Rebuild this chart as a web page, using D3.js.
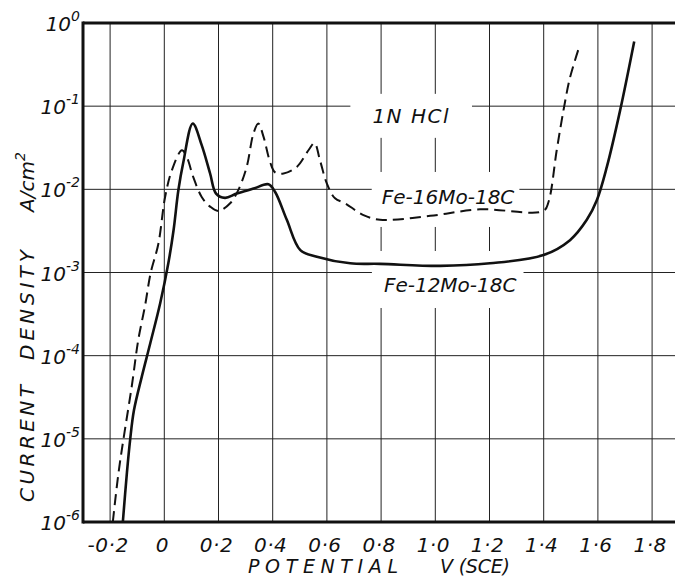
<!DOCTYPE html>
<html><head><meta charset="utf-8">
<script src="https://cdn.jsdelivr.net/npm/d3@7/dist/d3.min.js"></script>
<style>
body{margin:0;background:#fff}
svg{display:block}
text{font-family:"DejaVu Sans",sans-serif;font-style:italic;fill:#111}
</style>
</head><body>
<svg id="c" width="675" height="580"></svg>
<script>
// ---- data ----
const xTickValues = [-0.2, 0, 0.2, 0.4, 0.6, 0.8, 1.0, 1.2, 1.4, 1.6, 1.8];
const xTickLabels = ["-0·2", "0", "0·2", "0·4", "0·6", "0·8", "1·0", "1·2", "1·4", "1·6", "1·8"];
const yTickExponents = [0, -1, -2, -3, -4, -5, -6];

// Fe-12Mo-18C (solid)
const fe12Potential = [-0.153, -0.138, -0.126, -0.112, -0.083, -0.052, -0.015, 0.015, 0.034, 0.052, 0.070, 0.105, 0.138, 0.169, 0.191, 0.224, 0.267, 0.329, 0.384, 0.409, 0.452, 0.502, 0.563, 0.686, 0.796, 1.018, 1.202, 1.399, 1.497, 1.559, 1.596, 1.633, 1.682, 1.734];
const fe12Current   = [1.0e-6, 3.9e-6, 9.8e-6, 2.2e-5, 5.6e-5, 1.4e-4, 4.3e-4, 1.3e-3, 3.2e-3, 9.8e-3, 2.1e-2, 6.2e-2, 3.4e-2, 1.55e-2, 8.9e-3, 7.9e-3, 8.9e-3, 1.02e-2, 1.15e-2, 9.3e-3, 4.3e-3, 1.86e-3, 1.55e-3, 1.29e-3, 1.27e-3, 1.2e-3, 1.29e-3, 1.62e-3, 2.45e-3, 4.3e-3, 7.4e-3, 1.86e-2, 8.9e-2, 0.6];

// Fe-16Mo-18C (dashed)
const fe16Potential = [-0.19, -0.169, -0.151, -0.12, -0.096, -0.071, -0.05, -0.022, 0.003, 0.028, 0.065, 0.083, 0.107, 0.138, 0.169, 0.2, 0.243, 0.273, 0.304, 0.329, 0.347, 0.366, 0.391, 0.409, 0.44, 0.489, 0.532, 0.554, 0.575, 0.6, 0.63, 0.667, 0.735, 0.796, 0.981, 1.165, 1.399, 1.418, 1.448, 1.473, 1.497, 1.528];
const fe16Current   = [1.0e-6, 3.9e-6, 9.8e-6, 4.3e-5, 1.55e-4, 4.0e-4, 1.0e-3, 2.2e-3, 8.1e-3, 1.7e-2, 2.95e-2, 2.45e-2, 1.4e-2, 8.1e-3, 6.2e-3, 5.5e-3, 6.8e-3, 9.8e-3, 1.86e-2, 4.7e-2, 6.2e-2, 4.3e-2, 2.1e-2, 1.6e-2, 1.55e-2, 1.86e-2, 2.95e-2, 3.6e-2, 2.2e-2, 1.17e-2, 7.8e-3, 6.8e-3, 4.9e-3, 4.3e-3, 4.8e-3, 5.75e-3, 5.5e-3, 7.1e-3, 2.95e-2, 8.9e-2, 0.22, 0.48];

const labelTexts = ["1N HCl", "Fe-16Mo-18C", "Fe-12Mo-18C"];
const labelPotentials = [0.911, 1.047, 1.055];
const labelCurrents = [0.063, 6.67e-3, 5.83e-4];

// ---- layout ----
const svg = d3.select("#c");
const mLeft = 83, mTop = 23, mBottom = 522, W = 675;
const x = d3.scaleLinear().domain([-0.3, 1.9]).range([mLeft, mLeft + 2.2 * 271]);
const y = d3.scaleLog().domain([1e-6, 1]).range([mBottom, mTop]);

// grid
const g = svg.append("g");
g.selectAll("line.v").data(xTickValues).join("line").attr("class", "v")
  .attr("x1", d => x(d)).attr("x2", d => x(d))
  .attr("y1", mTop).attr("y2", mBottom)
  .attr("stroke", "#222").attr("stroke-width", 1);
g.selectAll("line.h").data(yTickExponents).join("line").attr("class", "h")
  .attr("x1", mLeft).attr("x2", W)
  .attr("y1", d => y(Math.pow(10, d))).attr("y2", d => y(Math.pow(10, d)))
  .attr("stroke", "#222").attr("stroke-width", 1);

// label masks + labels
const pads = [[22, 10, 22, 10], [10, 13, 5, 18], [12, 22, 7, 11]]; // l, t, r, b
const lab = svg.append("g");
labelTexts.forEach((t, i) => {
  const txt = lab.append("text")
    .attr("x", x(labelPotentials[i])).attr("y", y(labelCurrents[i]))
    .attr("text-anchor", "middle").attr("font-size", 20)
    .attr("letter-spacing", i === 0 ? 1.5 : 0)
    .text(t);
  const bb = txt.node().getBBox();
  const p = pads[i];
  lab.insert("rect", "text")
    .attr("x", bb.x - p[0]).attr("y", bb.y - p[1])
    .attr("width", bb.width + p[0] + p[2]).attr("height", bb.height + p[1] + p[3])
    .attr("fill", "#fff");
});

// clip
svg.append("clipPath").attr("id", "clip").append("rect")
  .attr("x", mLeft).attr("y", mTop).attr("width", W - mLeft).attr("height", mBottom - mTop);

const line = d3.line().x(d => x(d[0])).y(d => y(d[1])).curve(d3.curveCatmullRom.alpha(0.5));
const fe12 = fe12Potential.map((v, i) => [v, fe12Current[i]]);
const fe16 = fe16Potential.map((v, i) => [v, fe16Current[i]]);

svg.append("path").attr("d", line(fe16)).attr("clip-path", "url(#clip)")
  .attr("fill", "none").attr("stroke", "#111").attr("stroke-width", 2)
  .attr("stroke-dasharray", "11,6");
svg.append("path").attr("d", line(fe12)).attr("clip-path", "url(#clip)")
  .attr("fill", "none").attr("stroke", "#111").attr("stroke-width", 2.6);

// frame
svg.append("line").attr("x1", mLeft).attr("x2", mLeft).attr("y1", mTop - 1.5).attr("y2", mBottom + 1.5)
  .attr("stroke", "#111").attr("stroke-width", 3);
svg.append("line").attr("x1", mLeft).attr("x2", W).attr("y1", mTop).attr("y2", mTop)
  .attr("stroke", "#111").attr("stroke-width", 3);
svg.append("line").attr("x1", mLeft).attr("x2", W).attr("y1", mBottom).attr("y2", mBottom)
  .attr("stroke", "#111").attr("stroke-width", 3);

// x tick labels
svg.append("g").selectAll("text").data(xTickValues).join("text")
  .attr("x", d => x(d) - 2).attr("y", 552)
  .attr("text-anchor", "middle").attr("font-size", 20)
  .attr("letter-spacing", 0.5)
  .text((d, i) => xTickLabels[i]);

// y tick labels
const yl = svg.append("g").selectAll("text").data(yTickExponents).join("text")
  .attr("x", 80).attr("y", d => y(Math.pow(10, d)) + 8)
  .attr("text-anchor", "end").attr("font-size", 20);
yl.append("tspan").text("10");
yl.append("tspan").attr("dy", -10).attr("font-size", 14).text(d => d === 0 ? "0" : "-" + Math.abs(d));

// axis titles
const xt = [["POTENTIAL", 248, 150], ["V (SCE)", 440, 70]];
xt.forEach(([t, x0, w]) => {
  svg.append("text").attr("x", x0).attr("y", 573).attr("font-size", 19)
    .attr("textLength", w).attr("lengthAdjust", "spacing").text(t);
});
const yt = [["CURRENT", 502, 117], ["DENSITY", 360, 110]];
yt.forEach(([t, y0, w]) => {
  svg.append("text").attr("transform", `translate(34,${y0}) rotate(-90)`)
    .attr("font-size", 20).attr("textLength", w).attr("lengthAdjust", "spacing").text(t);
});
const au = svg.append("text").attr("transform", "translate(34,212) rotate(-90)").attr("font-size", 20);
au.append("tspan").text("A/cm");
au.append("tspan").attr("dy", -9).attr("font-size", 14).text("2");
</script>
</body></html>
